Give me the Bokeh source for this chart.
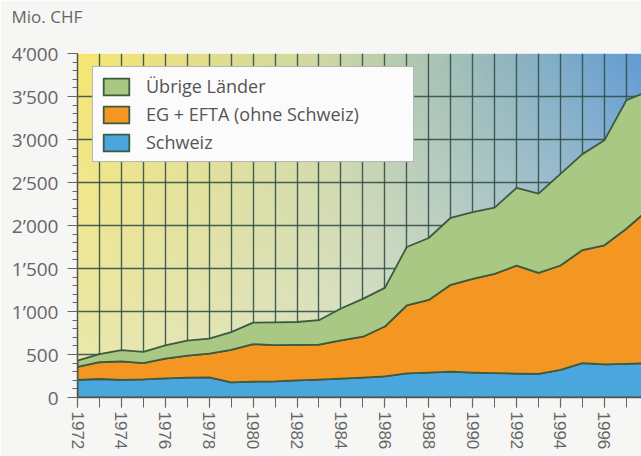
import numpy as np
from bokeh.plotting import figure
from bokeh.models import FixedTicker, Legend, LegendItem, Range1d, Title
from bokeh.embed import file_html
from bokeh.resources import INLINE

# ---- data (Mio. CHF) ----
years = list(range(1972, 1999))
schweiz = [205, 215, 205, 210, 222, 232, 235, 175, 185, 188, 198, 209, 220, 232,
           245, 280, 290, 300, 290, 283, 278, 275, 320, 400, 385, 392, 400]
eg_efta = [150, 195, 215, 190, 230, 255, 275, 380, 435, 420, 415, 405, 445, 475,
           580, 790, 845, 1010, 1090, 1155, 1255, 1175, 1215, 1315, 1385, 1570, 1785]
uebrige = [75, 95, 130, 130, 155, 175, 175, 205, 250, 265, 265, 285, 370, 440,
           450, 680, 720, 780, 775, 770, 905, 920, 1065, 1115, 1220, 1495, 1375]
series = [schweiz, eg_efta, uebrige]
series_names = ["Schweiz", "EG + EFTA (ohne Schweiz)", "Übrige Länder"]
unit_label = "Mio. CHF"
y_ticks = [0, 500, 1000, 1500, 2000, 2500, 3000, 3500, 4000]
y_tick_labels = ["0", "500", "1’000", "1’500", "2’000", "2’500", "3’000", "3’500", "4’000"]
x_label_years = list(range(1972, 1999, 2))

colors = ["#4ba6de", "#f39622", "#a8c883"]
edge = "#3c5a40"

p = figure(width=641, height=456, x_range=Range1d(1972, 1997.69), y_range=Range1d(0, 4000),
           output_backend="svg", toolbar_location=None, title=None,
           min_border_left=77, min_border_right=0, min_border_top=53, min_border_bottom=59)
p.border_fill_color = "#f6f6f4"
p.outline_line_color = None

# ---- gradient background ----
nx, ny = 200, 120
U, V = np.meshgrid(np.linspace(0, 1, nx), np.linspace(0, 1, ny))

def tri(c0, c1, c2, u, mid=0.45):
    c0, c1, c2 = map(np.array, (c0, c1, c2))
    a = np.clip(u / mid, 0, 1)[..., None]
    b = np.clip((u - mid) / (1 - mid), 0, 1)[..., None]
    return np.where((u < mid)[..., None], c0 + (c1 - c0) * a, c1 + (c2 - c1) * b)

top = tri((247, 230, 115), (205, 215, 165), (98, 156, 212), U)
bot = tri((232, 232, 178), (222, 228, 200), (190, 212, 222), U)
col = bot + (top - bot) * V[..., None]
img = np.empty((ny, nx), dtype=np.uint32)
view = img.view(dtype=np.uint8).reshape((ny, nx, 4))
view[..., :3] = np.clip(col, 0, 255).astype(np.uint8)
view[..., 3] = 255
p.image_rgba(image=[img], x=p.x_range.start, y=p.y_range.start,
             dw=p.x_range.end - p.x_range.start, dh=p.y_range.end - p.y_range.start, level="image")

# ---- grid ----
p.xgrid.ticker = FixedTicker(ticks=years)
p.ygrid.ticker = FixedTicker(ticks=y_ticks)
for g in (p.xgrid, p.ygrid):
    g.grid_line_color = "#34504a"
    g.grid_line_width = 1.4
    g.grid_line_alpha = 0.9

# ---- stacked areas (as outlined patches) ----
levels = [np.zeros(len(years))]
for s in series:
    levels.append(levels[-1] + np.array(s, dtype=float))
renderers = []
for i in range(len(series)):
    xs = years + years[::-1]
    ys = list(levels[i + 1]) + list(levels[i][::-1])
    renderers.append(p.patch(xs, ys, fill_color=colors[i], line_color=edge,
                             line_width=1.8, line_join="round"))

items = [LegendItem(label=series_names[i], renderers=[renderers[i]]) for i in (2, 1, 0)]
legend = Legend(items=items, location=(15, 235), orientation="vertical",
                glyph_width=32, glyph_height=21, label_height=21, spacing=4,
                padding=7, label_standoff=14, label_width=260,
                label_text_font="Open Sans", label_text_font_size="18px", label_text_color="#555555",
                border_line_color="#6f6f6f", border_line_width=1.5,
                background_fill_color="#fbfbfb", background_fill_alpha=1.0)
p.add_layout(legend, "center")

# ---- unit label (title lifted by a blank spacer title) ----
spacer = Title(text=" ", text_font_size="17px", standoff=3)
main_title = Title(text=unit_label, text_font="Open Sans", text_font_size="17px",
                   text_font_style="normal", text_color="#666666", align="left",
                   vertical_align="top", offset=-66, standoff=0)
p.add_layout(spacer, "above")
p.add_layout(main_title, "above")

# ---- axes ----
ya = p.yaxis[0]
ya.ticker = FixedTicker(ticks=y_ticks, minor_ticks=list(range(0, 4001, 100)))
ya.major_label_overrides = dict(zip(y_ticks, y_tick_labels))
ya.major_label_text_font = "Open Sans"
ya.major_label_text_font_size = "19px"
ya.major_label_text_color = "#666666"
ya.major_tick_out = 10
ya.major_tick_in = 0
ya.minor_tick_out = 5
ya.minor_tick_in = 0
ya.major_label_standoff = 9

xa = p.xaxis[0]
xa.ticker = FixedTicker(ticks=x_label_years, minor_ticks=years)
xa.major_label_orientation = "vertical"
xa.major_label_text_font = "Liberation Sans"
xa.major_label_text_font_size = "17px"
xa.major_label_text_color = "#666666"
xa.major_tick_out = 10
xa.major_tick_in = 0
xa.minor_tick_out = 10
xa.minor_tick_in = 0
xa.major_label_standoff = 4

for ax in (xa, ya):
    ax.axis_line_color = "#555555"
    ax.axis_line_width = 1.5
    ax.major_tick_line_color = "#666666"
    ax.minor_tick_line_color = "#666666"
    ax.major_tick_line_width = 1.2
    ax.minor_tick_line_width = 1.0

open("out.html", "w").write(file_html(p, INLINE))
